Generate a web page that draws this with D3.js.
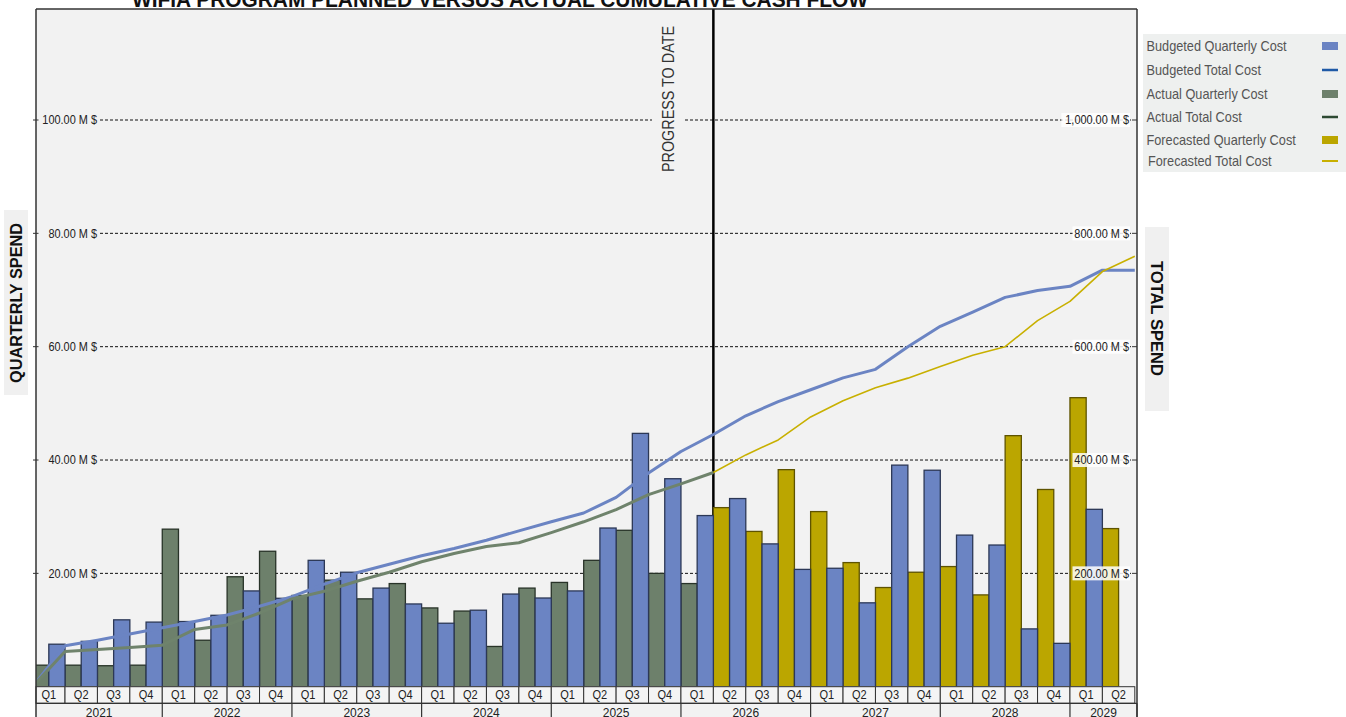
<!DOCTYPE html>
<html><head><meta charset="utf-8">
<script src="https://cdn.jsdelivr.net/npm/d3@7/dist/d3.min.js"></script>
<style>html,body{margin:0;padding:0;background:#fff;overflow:hidden}text{font-family:"Liberation Sans",Arial,sans-serif}</style>
</head><body><svg id="c" width="1346" height="717"></svg>
<script>
const quarters = ["2021 Q1","2021 Q2","2021 Q3","2021 Q4","2022 Q1","2022 Q2","2022 Q3","2022 Q4",
  "2023 Q1","2023 Q2","2023 Q3","2023 Q4","2024 Q1","2024 Q2","2024 Q3","2024 Q4",
  "2025 Q1","2025 Q2","2025 Q3","2025 Q4","2026 Q1","2026 Q2","2026 Q3","2026 Q4",
  "2027 Q1","2027 Q2","2027 Q3","2027 Q4","2028 Q1","2028 Q2","2028 Q3","2028 Q4",
  "2029 Q1","2029 Q2"];
const years = ["2021","2022","2023","2024","2025","2026","2027","2028","2029"];
const budgetQuarterly = [7.5,8.0,11.8,11.4, 11.5,12.6,16.9,15.6, 22.3,20.2,17.4,14.6, 11.2,13.5,16.35,15.65,
  16.9,28.0,44.7,36.7, 30.2,33.2,25.2,20.7, 20.9,14.8,39.1,38.2, 26.75,25.0,10.2,7.65, 31.3,0];
const actualQuarterly = [3.8,3.8,3.7,3.8, 27.8,8.2,19.4,23.9, 16.1,18.8,15.5,18.2, 13.9,13.35,7.1,17.4, 18.4,22.3,27.6,20.0, 18.2];
const forecastQuarterly = [31.6,27.4,38.3, 30.9,21.9,17.5,20.2, 21.2,16.2,44.3,34.8, 51.0,27.9];
const budgetTotal = [0,72.3,82,93,104, 115,126.5,142,159, 181,201,216,231, 244,258.5,275,291,
  306.5,334,377,415, 445,478,503,524, 545,560,600,636, 661,687,699,706.5, 735,735];
const actualTotal = [0,62,65.5,69.3,73.3, 101,109,130,155, 168.5,186,202,220.5, 235,247.5,254,272, 291,312.5,339,358, 378];
const forecastTotal = [378, 409,435.5,476, 504.5,527.5,544.5,565, 585,600,646,680, 732.5,759.5];
const leftTicks = [20,40,60,80,100];
const rightTicks = [200,400,600,800,1000];
const legendLabels = ["Budgeted Quarterly Cost","Budgeted Total Cost","Actual Quarterly Cost","Actual Total Cost","Forecasted Quarterly Cost","Forecasted Total Cost"];
const progressIndex = 21;      // "progress to date" after 2026 Q1
const forecastStart = 21;

const svg = d3.select("#c");
const P = {left:36, right:1137, top:9, bottom:686.7};
const x = d3.scaleBand().domain(quarters).range([32.6, 1134.8]).padding(0);
const xLine = d3.scaleLinear().domain([0, quarters.length]).range(x.range());
const yL = d3.scaleLinear().domain([0,100]).range([P.bottom,120]);
const yR = d3.scaleLinear().domain([0,1000]).range([P.bottom,120]);
const bw = x.bandwidth()/2;

const C = {budget:"#6b84c3", actual:"#6d806b", forecast:"#bba600",
  budgetS:"#2c3856", actualS:"#283328", forecastS:"#5e5300",
  budgetLine:"#6b84c3", actualLine:"#6f836c", forecastLine:"#c8b000"};

function stext(g, x0, y0, str, size, sx, anchor, fill, weight){
  return g.append("text").attr("transform",`translate(${x0},${y0}) scale(${sx},1)`)
    .attr("text-anchor",anchor).attr("font-size",size).attr("fill",fill||"#222")
    .attr("font-weight",weight||"normal").text(str);
}

// title
svg.append("text").attr("x",132).attr("y",7).attr("font-size",22).attr("font-weight","bold")
  .attr("fill","#111").attr("textLength",736).attr("lengthAdjust","spacingAndGlyphs")
  .text("WIFIA PROGRAM PLANNED VERSUS ACTUAL CUMULATIVE CASH FLOW");

// plot background
svg.append("rect").attr("x",P.left).attr("y",P.top).attr("width",P.right-P.left).attr("height",P.bottom-P.top).attr("fill","#f2f2f2");

svg.append("defs").append("clipPath").attr("id","clip").append("rect")
  .attr("x",P.left).attr("y",P.top).attr("width",P.right-P.left).attr("height",P.bottom-P.top);

// gridlines
const grid = svg.append("g");
leftTicks.forEach(t=>{
  grid.append("line").attr("x1",100).attr("x2",1131).attr("y1",yL(t)).attr("y2",yL(t))
    .attr("stroke","#111").attr("stroke-width",1).attr("stroke-dasharray","3,2");
});

// progress label
const pxl = xLine(progressIndex);
svg.append("rect").attr("x",652).attr("y",20).attr("width",33).attr("height",160).attr("fill","#f2f2f2");
svg.append("text").attr("transform",`translate(668,99) rotate(-90)`).attr("text-anchor","middle")
  .attr("dominant-baseline","central").attr("font-size",16).attr("fill","#333")
  .attr("textLength",146).attr("lengthAdjust","spacingAndGlyphs").text("PROGRESS TO DATE");
svg.append("line").attr("x1",pxl).attr("x2",pxl).attr("y1",P.top).attr("y2",P.bottom)
  .attr("stroke","#000").attr("stroke-width",2.5);

// bars
const plot = svg.append("g").attr("clip-path","url(#clip)");
plot.selectAll(".ba").data(actualQuarterly).join("rect")
  .attr("x",(d,i)=>x(quarters[i])).attr("width",bw)
  .attr("y",d=>yL(d)).attr("height",d=>yL(0)-yL(d))
  .attr("fill",C.actual).attr("stroke",C.actualS).attr("stroke-width",1.3);
plot.selectAll(".bf").data(forecastQuarterly).join("rect")
  .attr("x",(d,i)=>x(quarters[i+forecastStart])).attr("width",bw)
  .attr("y",d=>yL(d)).attr("height",d=>yL(0)-yL(d))
  .attr("fill",C.forecast).attr("stroke",C.forecastS).attr("stroke-width",1.3);
plot.selectAll(".bb").data(budgetQuarterly.map((v,i)=>({v,i})).filter(d=>d.v>0)).join("rect")
  .attr("x",d=>x(quarters[d.i])+bw).attr("width",bw)
  .attr("y",d=>yL(d.v)).attr("height",d=>yL(0)-yL(d.v))
  .attr("fill",C.budget).attr("stroke",C.budgetS).attr("stroke-width",1.3);

// lines
const line = off => d3.line().x((d,i)=>xLine(i+off)).y(d=>yR(d));
plot.append("path").datum(budgetTotal).attr("d",line(0)).attr("fill","none")
  .attr("stroke",C.budgetLine).attr("stroke-width",3).attr("stroke-linejoin","round");
plot.append("path").datum(actualTotal).attr("d",line(0)).attr("fill","none")
  .attr("stroke",C.actualLine).attr("stroke-width",3).attr("stroke-linejoin","round");
plot.append("path").datum(forecastTotal).attr("d",line(forecastStart)).attr("fill","none")
  .attr("stroke",C.forecastLine).attr("stroke-width",1.6).attr("stroke-linejoin","round");

// axis labels
const fmt = d3.format(",.2f");
leftTicks.forEach(t=>{
  stext(svg, 97, yL(t)+4.2, fmt(t)+" M $", 12, 0.91, "end");
  svg.append("line").attr("x1",33).attr("x2",38.5).attr("y1",yL(t)).attr("y2",yL(t)).attr("stroke","#333");
});
rightTicks.forEach(t=>{
  const lbl = fmt(t)+" M $";
  const w = lbl.length*6.1*0.91;
  svg.append("rect").attr("x",1129-w-1).attr("y",yR(t)-7).attr("width",w+2).attr("height",14)
    .attr("fill","#fff").attr("opacity",0.85);
  stext(svg, 1129, yR(t)+4.2, lbl, 12, 0.91, "end");
  svg.append("line").attr("x1",1132).attr("x2",1137).attr("y1",yR(t)).attr("y2",yR(t)).attr("stroke","#333");
});

// x axis rows
const xa = svg.append("g");
xa.append("rect").attr("x",P.left).attr("y",P.bottom).attr("width",P.right-P.left).attr("height",717-P.bottom).attr("fill","#f2f2f2");
quarters.forEach((q,i)=>{
  const x0 = Math.max(x(q), P.left), x1 = x(q)+x.bandwidth();
  xa.append("rect").attr("x",x0).attr("y",P.bottom).attr("width",x1-x0).attr("height",16.6)
    .attr("fill","#f4f4f4").attr("stroke","#333").attr("stroke-width",1);
  stext(xa, x(q)+x.bandwidth()/2, 699.3, q.split(" ")[1], 12, 0.92, "middle");
});
xa.append("line").attr("x1",P.left).attr("x2",P.right).attr("y1",703.3).attr("y2",703.3).attr("stroke","#333").attr("stroke-width",1.2);
years.forEach((yr,k)=>{
  const qs = quarters.filter(q=>q.startsWith(yr));
  const a = Math.max(x(qs[0]),P.left);
  const b = k===years.length-1 ? P.right : x(qs[qs.length-1])+x.bandwidth();
  xa.append("line").attr("x1",b).attr("x2",b).attr("y1",703.3).attr("y2",717).attr("stroke","#333").attr("stroke-width",1.2);
  stext(xa, (a+b)/2, 716.8, yr, 12, 1, "middle");
});

// plot border
svg.append("line").attr("x1",P.left).attr("x2",P.left).attr("y1",P.top).attr("y2",717).attr("stroke","#333").attr("stroke-width",1.5);
svg.append("line").attr("x1",P.right).attr("x2",P.right).attr("y1",P.top).attr("y2",717).attr("stroke","#333").attr("stroke-width",1.5);
svg.append("line").attr("x1",P.left).attr("x2",P.right).attr("y1",P.top).attr("y2",P.top).attr("stroke","#333").attr("stroke-width",1.5);

// axis titles
svg.append("rect").attr("x",4).attr("y",210).attr("width",24).attr("height",185).attr("fill","#f0f0f0");
svg.append("text").attr("transform","translate(16,303) rotate(-90)").attr("text-anchor","middle")
  .attr("dominant-baseline","central").attr("font-size",16).attr("font-weight","bold").attr("fill","#111")
  .attr("textLength",160).attr("lengthAdjust","spacingAndGlyphs").text("QUARTERLY SPEND");
svg.append("rect").attr("x",1145).attr("y",227).attr("width",24).attr("height",184).attr("fill","#f0f0f0");
svg.append("text").attr("transform","translate(1156.5,318.5) rotate(90)").attr("text-anchor","middle")
  .attr("dominant-baseline","central").attr("font-size",16).attr("font-weight","bold").attr("fill","#111")
  .attr("textLength",115).attr("lengthAdjust","spacingAndGlyphs").text("TOTAL SPEND");

// legend
const lg = svg.append("g");
lg.append("rect").attr("x",1143).attr("y",34).attr("width",203).attr("height",138).attr("fill","#eef0ef");
const legendY = [46,70,94,117,140,161];
const legendKinds = [["rect",C.budget],["line","#1f5aa6"],["rect",C.actual],["line","#2d4a33"],["rect",C.forecast],["line","#c8b000"]];
legendLabels.forEach((l,i)=>{
  stext(lg, i===5?1148:1146.5, legendY[i]+5, l, 14, 0.91, "start", "#555");
  const [k,c] = legendKinds[i];
  if(k==="rect") lg.append("rect").attr("x",1322).attr("y",legendY[i]-4).attr("width",16).attr("height",8).attr("fill",c);
  else lg.append("line").attr("x1",1322).attr("x2",1338).attr("y1",legendY[i]).attr("y2",legendY[i]).attr("stroke",c).attr("stroke-width",i===5?2:2.5);
});
</script></body></html>
